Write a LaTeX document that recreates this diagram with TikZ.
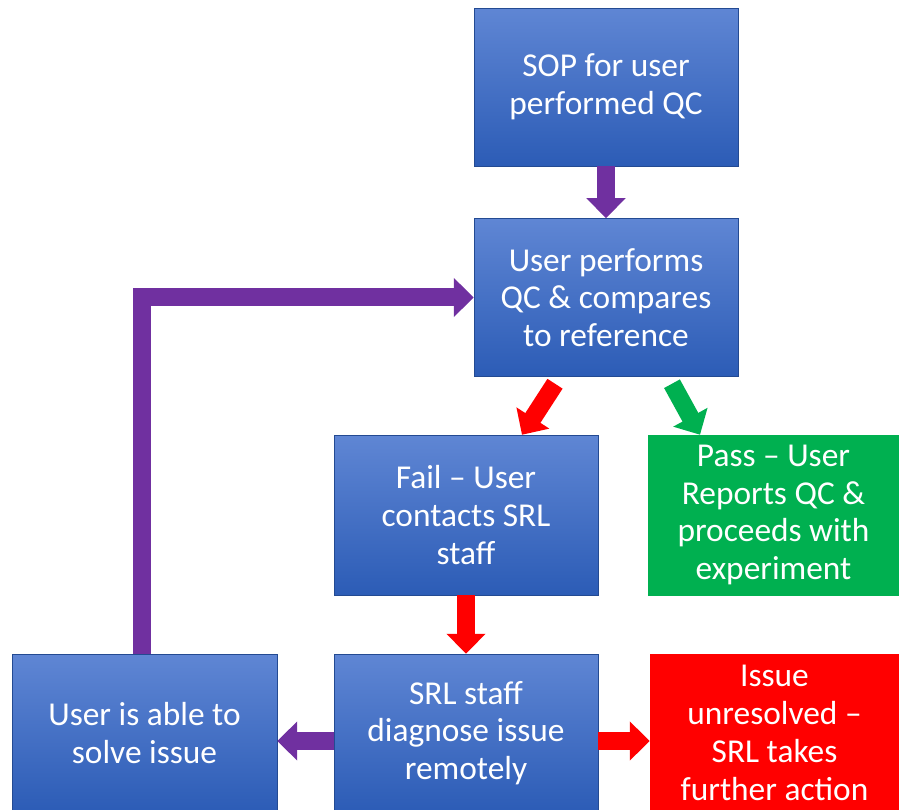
\documentclass[tikz,border=0pt]{standalone}
\usepackage{fontspec}
\setmainfont{Carlito}
\usetikzlibrary{arrows.meta, positioning}
\definecolor{boxtop}{RGB}{95,134,212}
\definecolor{boxbot}{RGB}{44,92,182}
\definecolor{passgreen}{RGB}{0,176,80}
\definecolor{failred}{RGB}{255,0,0}
\definecolor{looppurple}{RGB}{112,48,160}
\tikzset{
  bluebox/.style={rectangle, minimum width=5.28cm, minimum height=3.16cm, align=center, text=white,
    top color=boxtop, bottom color=boxbot, draw=boxbot!80!black, line width=0.3pt,
    font=\fontsize{19}{21.5}\selectfont},
  greenbox/.style={bluebox, top color=passgreen, bottom color=passgreen, draw=passgreen},
  redbox/.style={bluebox, top color=failred, bottom color=failred, draw=failred},
  blockarrow/.style={line width=0.36cm, -{Triangle[width=0.76cm, length=0.4cm]}},
  purplearrow/.style={blockarrow, draw=looppurple},
  redarrow/.style={blockarrow, draw=failred},
  greenarrow/.style={blockarrow, draw=passgreen}
}
\begin{document}
\begin{tikzpicture}[x=0.02cm, y=-0.02cm, node distance=1.04cm]
    \useasboundingbox (0,0) rectangle (899,810);
        % Nodes
        \node (sop) [bluebox] at (606,87) {SOP for user\\performed QC};
        \node (qc) [bluebox, below=of sop] {User performs\\QC \& compares\\to reference};
        \node (fail) [bluebox, minimum height=3.2cm] at (466,515) {Fail -- User\\contacts SRL\\staff};
        \node (pass) [greenbox, minimum width=5.02cm, minimum height=3.2cm] at (773.5,515) {Pass -- User\\Reports QC \&\\proceeds with\\experiment};
        \node (srl) [bluebox] at (466,733) {SRL staff\\diagnose issue\\remotely};
        \node (solve) [bluebox, minimum width=5.3cm] at (144.5,733) {User is able to\\solve issue};
        \node (issue) [redbox, minimum width=4.98cm] at (774.5,733) {Issue\\unresolved --\\SRL takes\\further action};

        % Connections
        \draw [purplearrow] (sop) -- (qc);
        \draw [redarrow] ([xshift=-1.02cm, yshift=-0.14cm]qc.south) -- ([xshift=1.12cm]fail.north);
        \draw [greenarrow] ([xshift=1.32cm, yshift=-0.14cm]qc.south) -- ([xshift=-1.47cm]pass.north);
        \draw [redarrow] (fail) -- (srl);
        \draw [purplearrow] ([yshift=-0.16cm]srl.west) -- ([yshift=-0.16cm]solve.east);
        \draw [redarrow] ([yshift=-0.16cm]srl.east) -- ([yshift=-0.16cm]issue.west);
        \draw [purplearrow] ([xshift=-0.06cm]solve.north) |- (qc.west); % loop back
    \end{tikzpicture}
\end{document}
